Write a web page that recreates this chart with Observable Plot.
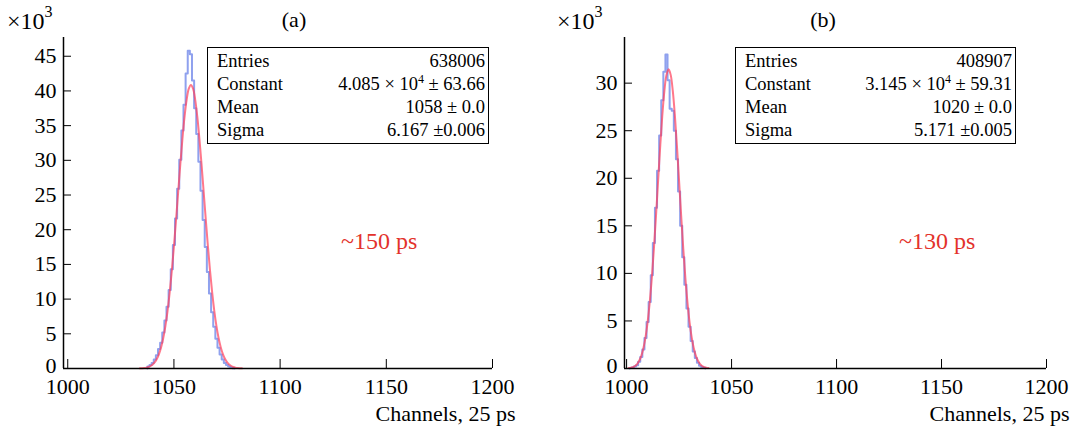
<!DOCTYPE html>
<html>
<head>
<meta charset="utf-8">
<script src="https://cdn.jsdelivr.net/npm/d3@7"></script>
<script src="https://cdn.jsdelivr.net/npm/@observablehq/plot@0.6"></script>
<style>
  html, body { margin: 0; padding: 0; background: white; }
  #wrap { position: relative; width: 1074px; height: 434px; font-family: "Liberation Serif", "Times New Roman", serif; color: black; }
  .panel { position: absolute; top: 0; }
  .ov { position: absolute; white-space: nowrap; line-height: 1; }
  .exp { font-size: 24px; }
  .exp sup { font-size: 16px; position: relative; top: -3px; vertical-align: super; line-height: 0; }
  .title { font-size: 22px; transform: translateX(-50%); }
  .box { position: absolute; box-sizing: border-box; border: 1.5px solid black; background: white; padding: 2px 3px 0 9px; font-size: 18.5px; }
  .row { display: flex; justify-content: space-between; height: 23px; line-height: 23px; }
  .row sup { font-size: 12px; position: relative; top: -7px; line-height: 0; vertical-align: baseline; }
  .note { font-size: 24px; color: #e3322b; }
</style>
</head>
<body>
<div id="wrap">
  <div id="pa" class="panel" style="left:0px"></div>
  <div id="pb" class="panel" style="left:537px"></div>

  <div class="ov exp" style="left:7px; top:9px">×10<sup>3</sup></div>
  <div class="ov exp" style="left:557px; top:9px">×10<sup>3</sup></div>
  <div class="ov title" style="left:294px; top:9px">(a)</div>
  <div class="ov title" style="left:823px; top:9px">(b)</div>

  <div class="box" style="left:207px; top:47px; width:282px; height:97px">
    <div class="row"><span>Entries</span><span>638006</span></div>
    <div class="row"><span>Constant</span><span>4.085 × 10<sup>4</sup> ± 63.66</span></div>
    <div class="row"><span>Mean</span><span>1058 ± 0.0</span></div>
    <div class="row"><span>Sigma</span><span>6.167 ±0.006</span></div>
  </div>
  <div class="box" style="left:735px; top:47px; width:281px; height:97px">
    <div class="row"><span>Entries</span><span>408907</span></div>
    <div class="row"><span>Constant</span><span>3.145 × 10<sup>4</sup> ± 59.31</span></div>
    <div class="row"><span>Mean</span><span>1020 ± 0.0</span></div>
    <div class="row"><span>Sigma</span><span>5.171 ±0.005</span></div>
  </div>

  <div class="ov note" style="left:341px; top:229px">~150 ps</div>
  <div class="ov note" style="left:899px; top:229px">~130 ps</div>
</div>
<script>
// ---- Data (counts in units of 10^3) ----
const xTicks = [1000, 1050, 1100, 1150, 1200];
const yTicksA = [0, 5, 10, 15, 20, 25, 30, 35, 40, 45];
const yTicksB = [0, 5, 10, 15, 20, 25, 30];
const xLabel = "Channels, 25 ps";

// Panel (a) histogram: bin centres (channels) and contents
const histA_channel = [1038,1039,1040,1041,1042,1043,1044,1045,1046,1047,1048,1049,1050,1051,1052,1053,1054,1055,1056,1057,1058,1059,1060,1061,1062,1063,1064,1065,1066,1067,1068,1069,1070,1071,1072,1073,1074,1075,1076,1077,1078];
const histA_count   = [0.3,0.5,0.8,1.3,1.9,2.8,3.7,5.2,6.9,8.9,11.3,14.3,17.8,21.6,25.9,30.1,34.3,38.0,42.5,45.8,45.3,41.5,37.5,33.8,29.8,25.6,21.4,17.5,13.9,10.8,8.1,6.0,4.3,3.0,2.0,1.3,0.8,0.5,0.3,0.15,0.05];

// Panel (a) fitted curve, read at each channel
const fitA_channel = [1034,1035,1036,1037,1038,1039,1040,1041,1042,1043,1044,1045,1046,1047,1048,1049,1050,1051,1052,1053,1054,1055,1056,1057,1058,1059,1060,1061,1062,1063,1064,1065,1066,1067,1068,1069,1070,1071,1072,1073,1074,1075,1076,1077,1078,1079,1080,1081,1082];
const fitA_count   = [0.02,0.04,0.07,0.12,0.21,0.36,0.58,0.91,1.41,2.12,3.11,4.43,6.15,8.32,10.97,14.08,17.61,21.45,25.45,29.41,33.10,36.29,38.76,40.32,40.85,40.32,38.76,36.29,33.10,29.41,25.45,21.45,17.61,14.08,10.97,8.32,6.15,4.43,3.11,2.12,1.41,0.91,0.58,0.36,0.21,0.12,0.07,0.04,0.02];

// Panel (b) histogram
const histB_channel = [1002,1003,1004,1005,1006,1007,1008,1009,1010,1011,1012,1013,1014,1015,1016,1017,1018,1019,1020,1021,1022,1023,1024,1025,1026,1027,1028,1029,1030,1031,1032,1033,1034,1035,1036,1037];
const histB_count   = [0.05,0.1,0.2,0.35,0.7,1.2,2.0,3.2,4.9,7.0,9.8,13.2,16.9,20.8,24.5,28.2,31.2,33.0,30.3,27.3,27.1,25.0,22.0,18.6,15.0,11.7,8.8,6.3,4.4,2.9,1.8,1.1,0.6,0.3,0.15,0.07];

// Panel (b) fitted curve
const fitB_channel = [1001,1002,1003,1004,1005,1006,1007,1008,1009,1010,1011,1012,1013,1014,1015,1016,1017,1018,1019,1020,1021,1022,1023,1024,1025,1026,1027,1028,1029,1030,1031,1032,1033,1034,1035,1036,1037,1038,1039];
const fitB_count   = [0.04,0.07,0.14,0.26,0.47,0.81,1.33,2.13,3.27,4.85,6.92,9.50,12.58,16.04,19.71,23.32,26.58,29.18,30.87,31.45,30.87,29.18,26.58,23.32,19.71,16.04,12.58,9.50,6.92,4.85,3.27,2.13,1.33,0.81,0.47,0.26,0.14,0.07,0.04];

// ---- helpers ----
function stepPoints(channels, counts) {
  const pts = [{x: channels[0] - 0.5, y: 0}];
  channels.forEach((c, i) => pts.push({x: c - 0.5, y: counts[i]}));
  pts.push({x: channels[channels.length - 1] + 0.5, y: 0});
  return pts;
}

const BLUE = "#6a82e8";
const RED = "#ff3f5a";

function panel({xDomain, yDomain, yTicks, hist, fit, marginLeft, marginRight}) {
  const zeroTick = yTicks.filter(t => t === 0);
  const otherTicks = yTicks.filter(t => t !== 0);
  return Plot.plot({
    width: 537,
    height: 434,
    marginLeft,
    marginRight,
    marginTop: 37,
    marginBottom: 66,
    style: {fontFamily: "'Liberation Serif', serif", fontSize: "22px", background: "white", color: "black", overflow: "visible"},
    x: {domain: xDomain},
    y: {domain: yDomain},
    marks: [
      Plot.lineY(hist, {x: "x", y: "y", curve: "step-after", stroke: BLUE, strokeWidth: 2, strokeOpacity: 0.75}),
      Plot.lineY(fit, {x: "x", y: "y", curve: "catmull-rom", stroke: RED, strokeWidth: 2, strokeOpacity: 0.7}),
      Plot.ruleX([xDomain[0]], {stroke: "black", strokeWidth: 1.5}),
      Plot.ruleY([yDomain[0]], {stroke: "black", strokeWidth: 1.5}),
      Plot.axisX({ticks: xTicks, tickSize: -9, tickPadding: 19, label: null, tickFormat: d => String(d)}),
      Plot.axisY({ticks: otherTicks, tickSize: -8, tickPadding: 15, label: null, tickFormat: d => String(d)}),
      Plot.axisY({ticks: zeroTick, tickSize: 0, tickPadding: 7, dy: -3, label: null, tickFormat: d => String(d)}),
      Plot.text([xLabel], {frameAnchor: "bottom-right", dy: 52, dx: 23, textAnchor: "end", fontSize: 22})
    ]
  });
}

const fitPts = (ch, ct) => ch.map((c, i) => ({x: c, y: ct[i]}));

document.getElementById("pa").append(panel({
  xDomain: [998, 1200], yDomain: [0, 47.7], yTicks: yTicksA,
  hist: stepPoints(histA_channel, histA_count), fit: fitPts(fitA_channel, fitA_count),
  marginLeft: 63, marginRight: 45
}));
document.getElementById("pb").append(panel({
  xDomain: [999, 1200], yDomain: [0, 34.8], yTicks: yTicksB,
  hist: stepPoints(histB_channel, histB_count), fit: fitPts(fitB_channel, fitB_count),
  marginLeft: 87, marginRight: 28
}));
</script>
</body>
</html>
